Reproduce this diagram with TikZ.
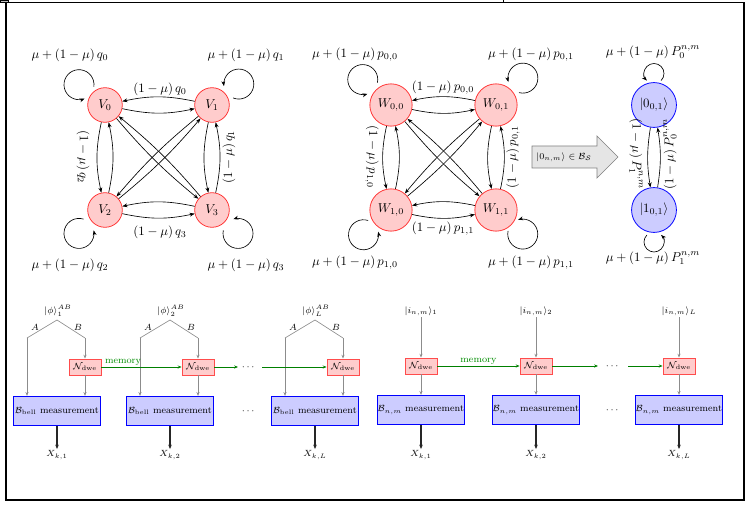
\documentclass[tikz,border=0pt]{standalone}
\usepackage{amsmath,amssymb}
\usetikzlibrary{arrows.meta,calc}
\newcommand{\mybsize}{\fontsize{7.5}{9}\selectfont}
% loop: node, direction, distance of circle centre, radius, half gap angle
\newcommand{\nloop}[5]{\draw[tarr] ($(#1)+({#2}:#3)+({#2+180+#5}:#4)$) arc[start angle={#2+180+#5}, delta angle={360-2*#5}, radius=#4];}
\begin{document}
\begin{tikzpicture}[x=0.78pt,y=0.78pt,
  vn/.style={circle,draw=red!80,fill=red!20,line width=0.6pt,inner sep=0pt,minimum size=27pt},
  wn/.style={vn,minimum size=33pt},
  bn/.style={circle,draw=blue,fill=blue!20,line width=0.6pt,inner sep=0pt,minimum size=35pt},
  tarr/.style={-{Stealth[length=4pt,width=3pt]},line width=0.5pt},
  lab/.style={inner sep=1pt},
  gline/.style={draw=black!45,line width=0.5pt},
  garr/.style={gline,-{Stealth[length=3pt,width=2.4pt]}},
  memarr/.style={draw=green!50!black,line width=0.6pt,-{Stealth[length=3pt,width=2.4pt]}},
  outarr/.style={draw=black!85,line width=0.8pt,-{Stealth[length=3.5pt,width=2.8pt]}},
  bellbox/.style={draw=blue,fill=blue!20,line width=0.6pt,minimum width=68pt,minimum height=23pt,inner sep=0pt,font=\mybsize},
  ndbox/.style={draw=red!70,fill=red!20,line width=0.6pt,minimum width=25pt,minimum height=12.5pt,inner sep=0pt,font=\mybsize},
  smalltxt/.style={font=\mybsize,inner sep=1pt},
  memlab/.style={font=\mybsize,text=green!55!black,inner sep=1pt}
]
\useasboundingbox (0,0) rectangle (755,512);
\draw[line width=0.8pt] (6,12) rectangle (744,509.5);
\filldraw[fill=gray!50,draw=black,line width=0.4pt] (0,509.5) rectangle (8,512);
\draw[line width=0.6pt] (503,509.5) -- (503,512);

% ---------- graph V ----------
\node[vn] (V0) at (105,407) {$V_0$};
\node[vn] (V1) at (212,407) {$V_1$};
\node[vn] (V2) at (105,302) {$V_2$};
\node[vn] (V3) at (212,302) {$V_3$};
\foreach \a/\b in {V0/V1,V1/V0,V0/V2,V2/V0,V1/V3,V3/V1,V2/V3,V3/V2}
  \draw[tarr] (\a) to[bend right=12] (\b);
\foreach \a/\b in {V0/V3,V3/V0,V1/V2,V2/V1}
  \draw[tarr] (\a) to[bend right=5] (\b);
\nloop{V0}{142}{33}{15}{30}
\nloop{V1}{38}{34}{15}{30}
\nloop{V2}{222}{35}{15}{30}
\nloop{V3}{318}{35}{15}{30}
\node[lab] (lq0) at (70,457) {$\mu+(1-\mu)\,q_0$};
\node[lab] (lq1) at (246,457) {$\mu+(1-\mu)\,q_1$};
\node[lab] (lq2) at (70,247) {$\mu+(1-\mu)\,q_2$};
\node[lab] (lq3) at (246,247) {$\mu+(1-\mu)\,q_3$};
\node[lab] (eq0) at (160,423) {$(1-\mu)\,q_0$};
\node[lab] (eq3) at (160,280) {$(1-\mu)\,q_3$};
\node[lab,rotate=-90] (eq2) at (83,355) {$(1-\mu)\,q_2$};
\node[lab,rotate=90] (eq1) at (229,355) {$(1-\mu)\,q_1$};

% ---------- graph W ----------
\node[wn] (W00) at (391,407) {$W_{0,0}$};
\node[wn] (W01) at (496,407) {$W_{0,1}$};
\node[wn] (W10) at (391,302) {$W_{1,0}$};
\node[wn] (W11) at (496,302) {$W_{1,1}$};
\foreach \a/\b in {W00/W01,W01/W00,W00/W10,W10/W00,W01/W11,W11/W01,W10/W11,W11/W10}
  \draw[tarr] (\a) to[bend right=12] (\b);
\foreach \a/\b in {W00/W11,W11/W00,W01/W10,W10/W01}
  \draw[tarr] (\a) to[bend right=5] (\b);
\nloop{W00}{138}{38}{15}{30}
\nloop{W01}{45}{38}{15}{30}
\nloop{W10}{222}{37}{15}{30}
\nloop{W11}{318}{36}{15}{30}
\node[lab] (lp00) at (355,457) {$\mu+(1-\mu)\,p_{0,0}$};
\node[lab] (lp01) at (531,457) {$\mu+(1-\mu)\,p_{0,1}$};
\node[lab] (lp10) at (355,249) {$\mu+(1-\mu)\,p_{1,0}$};
\node[lab] (lp11) at (531,249) {$\mu+(1-\mu)\,p_{1,1}$};
\node[lab] (ep00) at (443,424) {$(1-\mu)\,p_{0,0}$};
\node[lab] (ep11) at (443,283) {$(1-\mu)\,p_{1,1}$};
\node[lab,rotate=-90] (ep10) at (372,355) {$(1-\mu)\,p_{1,0}$};
\node[lab,rotate=90] (ep01) at (513,355) {$(1-\mu)\,p_{0,1}$};

% ---------- big arrow ----------
\filldraw[fill=gray!20,draw=gray,line width=0.5pt]
  (532,366) -- (597,366) -- (597,376) -- (618,355) -- (597,334) -- (597,344) -- (532,344) -- cycle;
\node[font=\scriptsize,inner sep=0pt] (arrtxt) at (564,355) {$|0_{n,m}\rangle\in\mathcal{B}_{\mathcal{S}}$};

% ---------- graph right ----------
\node[bn] (Z) at (654,407) {$|0_{0,1}\rangle$};
\node[bn] (O) at (654,302) {$|1_{0,1}\rangle$};
\draw[tarr] (Z) to[bend right=9] (O);
\draw[tarr] (O) to[bend right=9] (Z);
\nloop{Z}{90}{31.5}{10}{45}
\nloop{O}{270}{32}{10}{45}
\node[lab] (lP0) at (653,460) {$\mu+(1-\mu)\,P_0^{n,m}$};
\node[lab] (lP1) at (653,254) {$\mu+(1-\mu)\,P_1^{n,m}$};
\node[lab,rotate=-90] (eP1) at (636,358) {$(1-\mu)\,P_1^{n,m}$};
\node[lab,rotate=90] (eP0) at (670,358) {$(1-\mu)\,P_0^{n,m}$};

% ---------- bottom left: Bell ----------
\foreach \i/\bx/\s in {1/57/1,2/170/2,3/315/L}{
  \coordinate (s\i) at (\bx,192);
  \coordinate (a\i) at (\bx-30,174);
  \coordinate (b\i) at (\bx+28,174);
  \node[smalltxt] (phi\i) at (\bx+1,201) {$|\phi\rangle_{\s}^{AB}$};
  \node[smalltxt] (A\i) at (\bx-22,185) {$A$};
  \node[smalltxt] (Bl\i) at (\bx+21,185) {$B$};
  \node[ndbox] (N\i) at (\bx+28,145) {$\mathcal{N}_{\mathrm{dwe}}$};
  \node[bellbox] (BB\i) at (\bx,101) {$\mathcal{B}_{\mathrm{bell}}$\ measurement};
  \node[smalltxt] (X\i) at (\bx,57) {$X_{k,\s}$};
  \draw[gline] (s\i) -- (a\i);
  \draw[gline] (s\i) -- (b\i);
  \draw[garr] (a\i) -- (a\i |- BB\i.north);
  \draw[garr] (b\i) -- (N\i.north);
  \draw[garr] (N\i.south) -- (N\i.south |- BB\i.north);
  \draw[outarr] (BB\i.south) -- (X\i.north);
}
\draw[memarr] (N1) -- (N2) node[memlab,pos=0.27,above] {memory};
\coordinate (e1) at (238,145);
\coordinate (e2) at (262,145);
\node[smalltxt] (d1) at (249,145) {$\cdots$};
\node[smalltxt] (d2) at (249,101) {$\cdots$};
\draw[memarr] (N2) -- (e1);
\draw[memarr] (e2) -- (N3);

% ---------- bottom right: B_{n,m} ----------
\foreach \i/\bx/\s in {1/421/1,2/536/2,3/679/L}{
  \node[smalltxt] (I\i) at (\bx,201) {$|i_{n,m}\rangle_{\s}$};
  \node[ndbox] (M\i) at (\bx,146) {$\mathcal{N}_{\mathrm{dwe}}$};
  \node[bellbox] (C\i) at (\bx,102) {$\mathcal{B}_{n,m}$\ measurement};
  \node[smalltxt] (Y\i) at (\bx,57) {$X_{k,\s}$};
  \draw[garr] (I\i.south) -- (M\i.north);
  \draw[garr] (M\i.south) -- (C\i.north);
  \draw[outarr] (C\i.south) -- (Y\i.north);
}
\draw[memarr] (M1) -- (M2) node[memlab,pos=0.5,above] {memory};
\coordinate (f1) at (598,146);
\coordinate (f2) at (628,146);
\node[smalltxt] (g1) at (613,146) {$\cdots$};
\node[smalltxt] (g2) at (613,102) {$\cdots$};
\draw[memarr] (M2) -- (f1);
\draw[memarr] (f2) -- (M3);
\end{tikzpicture}
\end{document}
